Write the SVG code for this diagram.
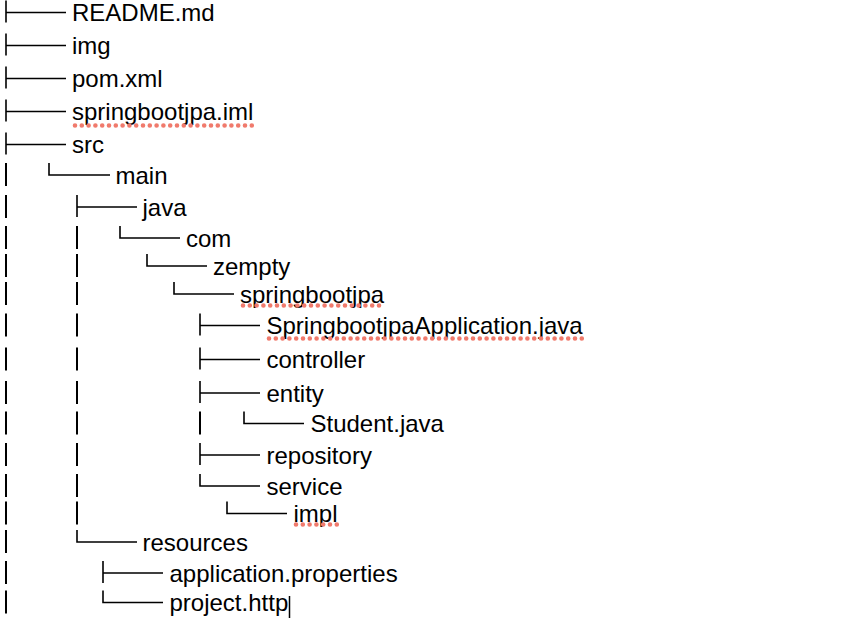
<svg xmlns="http://www.w3.org/2000/svg" width="844" height="620" viewBox="0 0 844 620">
<style>
.t{font-family:"Liberation Sans",Arial,Helvetica,sans-serif;font-size:24px;fill:#000}
.c{stroke:#000;stroke-width:1.6;fill:none}
.v{stroke:#000;stroke-width:2;fill:none}
.sp{stroke:#f07a6c;stroke-width:4.6;stroke-linecap:round;stroke-dasharray:0 6.8;fill:none}
</style>
<rect width="844" height="620" fill="#fff"/>
<g id="connectors">
<path class="c" d="M6,0.5V22.5M6,12.5H66"/>
<path class="c" d="M6,33.5V55.5M6,45.5H66"/>
<path class="c" d="M6,66.5V88.5M6,78.5H66"/>
<path class="c" d="M6,99.5V121.5M6,111.5H66"/>
<path class="c" d="M6,132.5V154.5M6,144.5H66"/>
<path class="c" d="M49,163V175H110"/>
<path class="c" d="M77,195V217M77,207H137"/>
<path class="c" d="M120,226V238H180"/>
<path class="c" d="M147,254V266H207"/>
<path class="c" d="M174,282V294H234"/>
<path class="c" d="M200,313.5V335.5M200,325.5H260"/>
<path class="c" d="M200,347.5V369.5M200,359.5H260"/>
<path class="c" d="M200,381V403M200,393H260"/>
<path class="c" d="M244,411.5V423.5H304"/>
<path class="c" d="M200,443V465M200,455H260"/>
<path class="c" d="M200,474V486H260"/>
<path class="c" d="M227,501.5V513.5H287"/>
<path class="c" d="M77,530V542H137"/>
<path class="c" d="M103,561V583M103,573H163"/>
<path class="c" d="M103,590.5V602.5H163"/>
<path class="v" d="M6,163V186M6,195V218M6,226V249M6,254V277M6,282V305M6,313.5V336.5M6,347.5V370.5M6,381V404M6,411.5V434.5M6,443V466M6,474V497M6,501.5V524.5M6,530V553M6,561V584M6,590.5V613.5"/>
<path class="v" d="M77,226V249M77,254V277M77,282V305M77,313.5V336.5M77,347.5V370.5M77,381V404M77,411.5V434.5M77,443V466M77,474V497M77,501.5V524.5"/>
<path class="v" d="M200,411.5V434.5"/>
</g>
<g id="n-readme"><text class="t" x="72" y="21">README.md</text></g>
<g id="n-img"><text class="t" x="72" y="54">img</text></g>
<g id="n-pom"><text class="t" x="72" y="87">pom.xml</text></g>
<g id="n-iml"><text class="t" x="72" y="120">springbootjpa.iml</text><line class="sp" x1="75" y1="125.5" x2="254" y2="125.5"/></g>
<g id="n-src"><text class="t" x="72" y="153">src</text></g>
<g id="n-main"><text class="t" x="115.5" y="183.5">main</text></g>
<g id="n-java"><text class="t" x="142.5" y="215.5">java</text></g>
<g id="n-com"><text class="t" x="186" y="246.5">com</text></g>
<g id="n-zempty"><text class="t" x="213" y="274.5">zempty</text></g>
<g id="n-springbootjpa"><text class="t" x="240" y="302.5">springbootjpa</text><line class="sp" x1="243" y1="305.5" x2="383" y2="305.5"/></g>
<g id="n-app"><text class="t" x="266.5" y="334">SpringbootjpaApplication.java</text><line class="sp" x1="269" y1="338.5" x2="582" y2="338.5"/></g>
<g id="n-controller"><text class="t" x="266.5" y="368">controller</text></g>
<g id="n-entity"><text class="t" x="266.5" y="401.5">entity</text></g>
<g id="n-student"><text class="t" x="310.5" y="432">Student.java</text></g>
<g id="n-repository"><text class="t" x="266.5" y="463.5">repository</text></g>
<g id="n-service"><text class="t" x="266.5" y="494.5">service</text></g>
<g id="n-impl"><text class="t" x="293.5" y="522">impl</text><line class="sp" x1="296" y1="524.5" x2="338" y2="524.5"/></g>
<g id="n-resources"><text class="t" x="142.5" y="550.5">resources</text></g>
<g id="n-appprops"><text class="t" x="169.5" y="581.5">application.properties</text></g>
<g id="n-project"><text class="t" x="169.5" y="611">project.http</text><line x1="289.5" y1="596" x2="289.5" y2="618" stroke="#000" stroke-width="1.5"/></g>
</svg>
